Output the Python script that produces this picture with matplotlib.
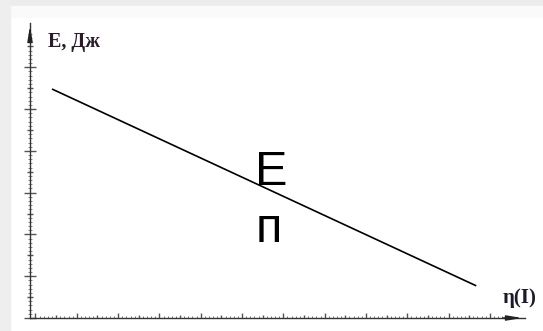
import matplotlib

matplotlib.use("Agg")

import matplotlib.pyplot as plt
import numpy as np
from matplotlib.patches import Rectangle

# energy vs efficiency: a single falling straight line
eta_points = [0.40, 10.67]
energy_points = [5.48, 0.77]

x_max = 11.85
y_max = 7.06

W, H = 543, 331
fig = plt.figure(figsize=(W / 100, H / 100), dpi=100, facecolor="white")

# light grey frame around the white sheet
fig.patches.append(Rectangle((0, 1 - 6 / H), 1, 6 / H, transform=fig.transFigure,
                             color="#ececec", zorder=0))
fig.patches.append(Rectangle((0, 1 - 17 / H), 1, 11 / H, transform=fig.transFigure,
                             color="#fafafa", zorder=0))
fig.patches.append(Rectangle((0, 0), 10 / W, 1, transform=fig.transFigure,
                             color="#eeeeee", zorder=0))

left_px, right_px = 30, 525
bottom_px, top_px = 318, 23
ax = fig.add_axes([left_px / W, (H - bottom_px) / H,
                   (right_px - left_px) / W, (bottom_px - top_px) / H])
ax.set_facecolor("none")
ax.set_xlim(-0.133, x_max)
ax.set_ylim(0, y_max)

for side in ["top", "right"]:
    ax.spines[side].set_visible(False)
for side in ["left", "bottom"]:
    ax.spines[side].set_color("#333333")
    ax.spines[side].set_linewidth(1.0)

# arrow heads on both axes
ax.annotate("", xy=(1.0, 0), xytext=(0.95, 0), xycoords="axes fraction",
            arrowprops=dict(arrowstyle="-|>,head_length=0.9,head_width=0.15",
                            color="#222222", lw=1.0), annotation_clip=False)
ax.annotate("", xy=(0, 1.0), xytext=(0, 0.95), xycoords="axes fraction",
            arrowprops=dict(arrowstyle="-|>,head_length=0.9,head_width=0.15",
                            color="#222222", lw=1.0), annotation_clip=False)

# ticks: majors at halves (long at integers), minors every 0.1
ax.set_xticks(np.arange(0, 11.01, 0.5))
ax.set_xticks(np.arange(0, 11.4, 0.1), minor=True)
ax.set_yticks(np.arange(0, 6.51, 0.5))
ax.set_yticks(np.arange(0, 6.9, 0.1), minor=True)
ax.set_xticklabels([])
ax.set_yticklabels([])

ax.tick_params(axis="x", which="major", direction="in", length=3.5, width=1.0, color="#555555")
ax.tick_params(axis="x", which="minor", direction="in", length=1.6, width=0.7, color="#777777")
ax.tick_params(axis="y", which="major", direction="inout", length=8, width=1.0, color="#555555")
ax.tick_params(axis="y", which="minor", direction="inout", length=3, width=0.7, color="#888888")

for val, tick in zip(np.arange(0, 11.01, 0.5), ax.xaxis.get_major_ticks()):
    if val % 1 != 0:
        tick.tick1line.set_markersize(2.4)
for val, tick in zip(np.arange(0, 6.51, 0.5), ax.yaxis.get_major_ticks()):
    if val % 1 != 0:
        tick.tick1line.set_markersize(5)

ax.plot(eta_points, energy_points, color="black", lw=1.2, solid_capstyle="butt")

ax.text(5.31, 3.18, "E", fontsize=35, family="Liberation Sans", va="baseline", ha="left")
ax.text(5.34, 1.82, "п", fontsize=35, family="Liberation Sans", va="baseline", ha="left")

ax.text(0.30, 6.48, "E, Дж", fontsize=14.5, family="Liberation Serif", weight="bold",
        color="#2a1a2a", va="baseline", ha="left")
ax.text(11.30, 0.36, "η(I)", fontsize=15, family="Liberation Serif", weight="bold",
        color="#1a1a2a", va="baseline", ha="left", clip_on=False)

fig.savefig("out.png", dpi=100, facecolor=fig.get_facecolor())
